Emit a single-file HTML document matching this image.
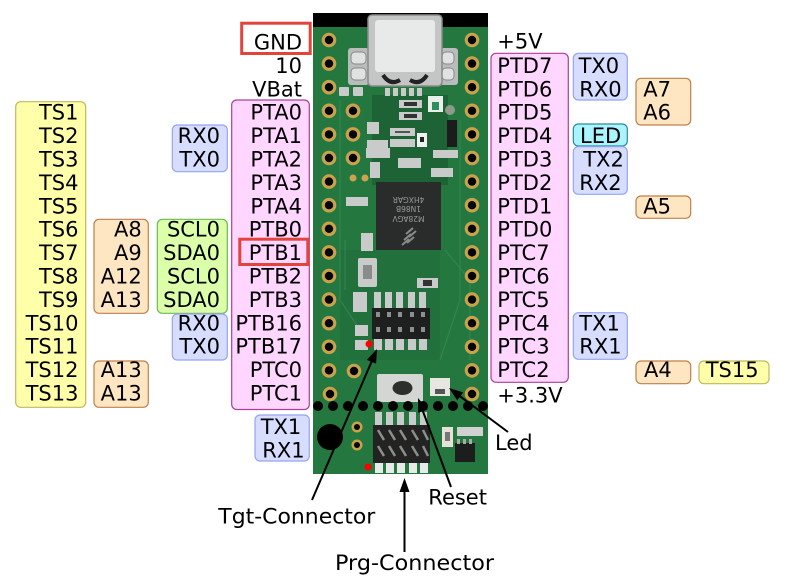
<!DOCTYPE html>
<html><head><meta charset="utf-8"><style>
html,body{margin:0;padding:0;background:#fff}
svg{display:block}
text{font-family:"DejaVu Sans","Liberation Sans",sans-serif;font-size:21px;fill:#000}
</style></head><body>
<svg width="786" height="576" viewBox="0 0 786 576" xmlns="http://www.w3.org/2000/svg">
<rect width="786" height="576" fill="#fff"/>

<!-- ============ BOARD ============ -->
<rect x="313" y="13" width="175" height="461" fill="#24783f"/>
<rect x="372" y="95" width="76" height="90" fill="#1b5a33" opacity="0.7"/>
<rect x="340" y="250" width="100" height="110" fill="#1f6a3a" opacity="0.5"/>
<rect x="313" y="13" width="175" height="14" fill="#000"/>
<!-- subtle traces -->
<g stroke="#3a8a56" stroke-width="1" fill="none" opacity="0.8">
<path d="M340 100 L340 300 L360 330"/><path d="M460 120 L460 300 L440 360"/>
<path d="M445 250 L470 280 L470 360"/><path d="M345 240 L345 290"/>
</g>

<!-- USB connector -->
<rect x="348" y="48" width="21" height="37" rx="3" fill="#b8bcbc"/>
<rect x="351" y="52" width="15" height="12" rx="4" fill="#e0e2e2" stroke="#888" stroke-width="1"/>
<rect x="351" y="68" width="15" height="12" rx="4" fill="#e0e2e2" stroke="#888" stroke-width="1"/>
<rect x="440" y="48" width="18" height="37" rx="3" fill="#b8bcbc"/>
<rect x="442" y="52" width="12" height="12" rx="4" fill="#e0e2e2" stroke="#888" stroke-width="1"/>
<rect x="442" y="68" width="12" height="12" rx="4" fill="#e0e2e2" stroke="#888" stroke-width="1"/>
<rect x="368" y="15" width="74" height="71" rx="4" fill="#c4c6c6" stroke="#8a8c8c" stroke-width="1.5"/>
<rect x="375" y="20" width="60" height="52" rx="3" fill="#e8e9e9"/>
<path d="M383 75 Q390 86 400 80 M410 80 Q420 86 427 75" stroke="#222" stroke-width="4" fill="none"/>

<!-- small components upper -->
<g fill="#c9cbcb">
<rect x="339" y="87" width="10" height="9" rx="1"/><rect x="353" y="87" width="10" height="9" rx="1"/>
<rect x="385" y="88" width="5" height="8"/><rect x="393" y="88" width="5" height="8"/><rect x="401" y="88" width="5" height="8"/><rect x="409" y="88" width="5" height="8"/><rect x="417" y="88" width="5" height="8"/>
<rect x="399" y="100" width="23" height="8"/><rect x="399" y="112" width="23" height="8"/>
<rect x="367" y="122" width="12" height="12"/><rect x="367" y="140" width="21" height="9"/>
<rect x="390" y="128" width="25" height="8"/><rect x="390" y="139" width="25" height="8"/>
<rect x="433" y="150" width="25" height="8"/><rect x="431" y="168" width="22" height="9"/>
<rect x="398" y="158" width="23" height="10"/><rect x="366" y="148" width="24" height="10"/>
<rect x="370" y="162" width="10" height="16"/>
<rect x="346" y="197" width="22" height="9"/>
<rect x="361" y="233" width="12" height="18"/>
<rect x="358" y="258" width="19" height="29" rx="2"/>
<rect x="417" y="278" width="21" height="10"/>
<rect x="353" y="292" width="14" height="20"/>
<rect x="355" y="325" width="13" height="11"/><rect x="355" y="340" width="13" height="10"/>
</g>
<rect x="404" y="102" width="13" height="4" fill="#333"/><rect x="404" y="114" width="13" height="4" fill="#333"/>
<rect x="428" y="96" width="15" height="16" fill="#e8eee8"/><rect x="432" y="102" width="7" height="8" fill="#2e8f5a"/>
<circle cx="450" cy="110" r="5" fill="#8f9a8a"/>
<rect x="447" y="120" width="10" height="27" fill="#1c1c1c"/>
<rect x="417" y="133" width="10" height="14" fill="#f0f0f0"/><rect x="420" y="137" width="4" height="5" fill="#222"/>
<rect x="395" y="131" width="15" height="2" fill="#555"/>
<rect x="363" y="265" width="9" height="14" fill="#8a8c8c"/>
<rect x="423" y="280" width="9" height="6" fill="#333"/>
<circle cx="353" cy="178" r="3.5" fill="#c9a44c"/><circle cx="365" cy="178" r="3.5" fill="#c9a44c"/>

<!-- MCU chip -->
<rect x="376" y="182" width="65" height="68" fill="#2a2b2b"/>
<g transform="rotate(180 408.5 216)">
<text x="408.5" y="216" style="font-size:7.5px;fill:#9a9a9a;text-anchor:middle">M28AGV</text>
<text x="408.5" y="226" style="font-size:7.5px;fill:#9a9a9a;text-anchor:middle">1N86B</text>
<text x="408.5" y="235" style="font-size:7.5px;fill:#9a9a9a;text-anchor:middle">4HXGAR</text>
</g>
<g stroke="#8a8a8a" stroke-width="2">
<path d="M406 234 L413 228 M409 237 L416 231 M404 240 L411 234 M407 243 L414 237 M402 245 L409 239"/>
</g>

<!-- Tgt header -->
<g fill="#c9cbcb">
<rect x="374" y="292" width="7" height="16"/><rect x="385" y="292" width="7" height="16"/><rect x="396" y="292" width="7" height="16"/><rect x="408" y="292" width="7" height="16"/><rect x="419" y="292" width="7" height="16"/>
<rect x="374" y="338" width="8" height="12"/><rect x="385" y="338" width="8" height="12"/><rect x="396" y="338" width="8" height="12"/><rect x="408" y="338" width="8" height="12"/><rect x="419" y="338" width="8" height="12"/>
</g>
<rect x="372" y="308" width="58" height="31" fill="#1e1f1f"/>
<g fill="#8d8f8a">
<rect x="376" y="312" width="4" height="5"/><rect x="387" y="312" width="4" height="5"/><rect x="398" y="312" width="4" height="5"/><rect x="410" y="312" width="4" height="5"/><rect x="421" y="312" width="4" height="5"/>
<rect x="376" y="327" width="4" height="5"/><rect x="387" y="327" width="4" height="5"/><rect x="398" y="327" width="4" height="5"/><rect x="410" y="327" width="4" height="5"/><rect x="421" y="327" width="4" height="5"/>
</g>
<circle cx="369" cy="344" r="3.5" fill="#f00"/>

<!-- Reset button & LED -->
<rect x="377" y="374" width="46" height="28" rx="2" fill="#d4d6d4"/>
<ellipse cx="402.5" cy="388" rx="10" ry="7" fill="#2d2f2f"/>
<rect x="430" y="378" width="20" height="18" fill="#e8e6e0"/>
<rect x="435" y="389" width="10" height="5" fill="#555"/>

<!-- Prg header -->
<g fill="#c9cbcb">
<rect x="375" y="412" width="7" height="14"/><rect x="386" y="412" width="7" height="14"/><rect x="397" y="412" width="7" height="14"/><rect x="409" y="412" width="7" height="14"/><rect x="420" y="412" width="7" height="14"/>
</g>
<g fill="#e8eaea">
<rect x="375" y="462" width="8" height="11"/><rect x="386" y="462" width="8" height="11"/><rect x="397" y="462" width="8" height="11"/><rect x="409" y="462" width="8" height="11"/><rect x="420" y="462" width="8" height="11"/>
</g>
<rect x="373" y="425" width="57" height="38" fill="#222322"/>
<g stroke="#8d8f8a" stroke-width="2.5">
<path d="M378 430 L384 440 M389 430 L395 440 M400 430 L406 440 M412 430 L418 440 M423 430 L428 440"/>
<path d="M378 446 L384 456 M389 446 L395 456 M400 446 L406 456 M412 446 L418 456 M423 446 L428 456"/>
</g>
<circle cx="368" cy="467" r="3.5" fill="#f00"/>

<!-- right lower components -->
<rect x="442" y="427" width="11" height="20" fill="#e6e2d8"/><rect x="445" y="432" width="5" height="9" fill="#777"/>
<rect x="457" y="427" width="26" height="9" fill="#d0d2d2"/>
<rect x="455" y="443" width="20" height="19" fill="#1c1d1d"/>
<g fill="#aaa"><rect x="457" y="439" width="3" height="5"/><rect x="463" y="439" width="3" height="5"/><rect x="469" y="439" width="3" height="5"/></g>

<!-- holes -->
<g fill="#c9a24a">
<circle cx="329" cy="40" r="7.3"/><circle cx="329" cy="63.6" r="7.3"/><circle cx="329" cy="87.2" r="7.3"/><circle cx="329" cy="110.8" r="7.3"/><circle cx="329" cy="134.4" r="7.3"/><circle cx="329" cy="158" r="7.3"/><circle cx="329" cy="181.6" r="7.3"/><circle cx="329" cy="205.2" r="7.3"/><circle cx="329" cy="228.8" r="7.3"/><circle cx="329" cy="252.4" r="7.3"/><circle cx="329" cy="276" r="7.3"/><circle cx="329" cy="299.6" r="7.3"/><circle cx="329" cy="323.2" r="7.3"/><circle cx="329" cy="346.8" r="7.3"/><circle cx="329" cy="370.4" r="7.3"/><circle cx="330" cy="394" r="7.3"/>
<circle cx="472" cy="40" r="7.3"/><circle cx="472" cy="63.6" r="7.3"/><circle cx="472" cy="87.2" r="7.3"/><circle cx="472" cy="110.8" r="7.3"/><circle cx="472" cy="134.4" r="7.3"/><circle cx="472" cy="158" r="7.3"/><circle cx="472" cy="181.6" r="7.3"/><circle cx="472" cy="205.2" r="7.3"/><circle cx="472" cy="228.8" r="7.3"/><circle cx="472" cy="252.4" r="7.3"/><circle cx="472" cy="276" r="7.3"/><circle cx="472" cy="299.6" r="7.3"/><circle cx="472" cy="323.2" r="7.3"/><circle cx="472" cy="346.8" r="7.3"/><circle cx="472" cy="370.4" r="7.3"/><circle cx="472" cy="394" r="7.3"/>
<circle cx="353" cy="110.8" r="7.3"/><circle cx="353" cy="134.4" r="7.3"/><circle cx="353" cy="158" r="7.3"/><circle cx="354" cy="371" r="7.3"/>
<circle cx="357" cy="427" r="5.5"/><circle cx="357" cy="445" r="5.5"/>
</g>
<g fill="#050505">
<circle cx="329" cy="40" r="4.2"/><circle cx="329" cy="63.6" r="4.2"/><circle cx="329" cy="87.2" r="4.2"/><circle cx="329" cy="110.8" r="4.2"/><circle cx="329" cy="134.4" r="4.2"/><circle cx="329" cy="158" r="4.2"/><circle cx="329" cy="181.6" r="4.2"/><circle cx="329" cy="205.2" r="4.2"/><circle cx="329" cy="228.8" r="4.2"/><circle cx="329" cy="252.4" r="4.2"/><circle cx="329" cy="276" r="4.2"/><circle cx="329" cy="299.6" r="4.2"/><circle cx="329" cy="323.2" r="4.2"/><circle cx="329" cy="346.8" r="4.2"/><circle cx="329" cy="370.4" r="4.2"/><circle cx="330" cy="394" r="4.2"/>
<circle cx="472" cy="40" r="4.2"/><circle cx="472" cy="63.6" r="4.2"/><circle cx="472" cy="87.2" r="4.2"/><circle cx="472" cy="110.8" r="4.2"/><circle cx="472" cy="134.4" r="4.2"/><circle cx="472" cy="158" r="4.2"/><circle cx="472" cy="181.6" r="4.2"/><circle cx="472" cy="205.2" r="4.2"/><circle cx="472" cy="228.8" r="4.2"/><circle cx="472" cy="252.4" r="4.2"/><circle cx="472" cy="276" r="4.2"/><circle cx="472" cy="299.6" r="4.2"/><circle cx="472" cy="323.2" r="4.2"/><circle cx="472" cy="346.8" r="4.2"/><circle cx="472" cy="370.4" r="4.2"/><circle cx="472" cy="394" r="4.2"/>
<circle cx="353" cy="110.8" r="4.2"/><circle cx="353" cy="134.4" r="4.2"/><circle cx="353" cy="158" r="4.2"/><circle cx="354" cy="371" r="4.2"/>
<circle cx="357" cy="427" r="3"/><circle cx="357" cy="445" r="3"/>
</g>

<!-- dotted separator row -->
<g fill="#000">
<circle cx="318" cy="406" r="5"/><circle cx="333" cy="406" r="5"/><circle cx="348" cy="406" r="5"/><circle cx="363" cy="406" r="5"/><circle cx="378" cy="406" r="5"/><circle cx="393" cy="406" r="5"/><circle cx="408" cy="406" r="5"/><circle cx="423" cy="406" r="5"/><circle cx="438" cy="406" r="5"/><circle cx="453" cy="406" r="5"/><circle cx="468" cy="406" r="5"/><circle cx="483" cy="406" r="5"/>
</g>
<circle cx="330" cy="437" r="13" fill="#000"/>

<!-- ============ LABEL BOXES ============ -->
<rect x="15.7" y="101.7" width="70" height="305.6" rx="5" fill="#ffffaa" stroke="#c0b860" stroke-width="1.2"/>
<rect x="94" y="219.3" width="54.3" height="94" rx="5" fill="#ffe6c2" stroke="#c0804a" stroke-width="1.2"/>
<rect x="94" y="361" width="54.3" height="46.3" rx="5" fill="#ffe6c2" stroke="#c0804a" stroke-width="1.2"/>
<rect x="157.3" y="219.3" width="70" height="94" rx="5" fill="#dcffaa" stroke="#70b850" stroke-width="1.2"/>
<rect x="172.3" y="125" width="55" height="46.7" rx="5" fill="#d6ddff" stroke="#95a5f0" stroke-width="1.2"/>
<rect x="172.3" y="314" width="55" height="46" rx="5" fill="#d6ddff" stroke="#95a5f0" stroke-width="1.2"/>
<rect x="231.7" y="100" width="77.6" height="309.5" rx="5" fill="#ffd6ff" stroke="#a8409a" stroke-width="1.2"/>
<rect x="255" y="415" width="54.3" height="46" rx="5" fill="#d6ddff" stroke="#95a5f0" stroke-width="1.2"/>
<rect x="491" y="53.3" width="77.3" height="329" rx="5" fill="#ffd6ff" stroke="#a8409a" stroke-width="1.2"/>
<rect x="573.3" y="53.3" width="54" height="46.7" rx="5" fill="#d6ddff" stroke="#95a5f0" stroke-width="1.2"/>
<rect x="573.3" y="124" width="54" height="22" rx="5" fill="#aaf4ff" stroke="#2a8aa0" stroke-width="1.2"/>
<rect x="573.3" y="146.7" width="54" height="47.6" rx="5" fill="#d6ddff" stroke="#95a5f0" stroke-width="1.2"/>
<rect x="573.3" y="312.7" width="54" height="46.6" rx="5" fill="#d6ddff" stroke="#95a5f0" stroke-width="1.2"/>
<rect x="636" y="78.3" width="54.7" height="46.7" rx="5" fill="#ffe6c2" stroke="#c0804a" stroke-width="1.2"/>
<rect x="636" y="196" width="54.7" height="22.3" rx="5" fill="#ffe6c2" stroke="#c0804a" stroke-width="1.2"/>
<rect x="636" y="361" width="54.7" height="22.7" rx="5" fill="#ffe6c2" stroke="#c0804a" stroke-width="1.2"/>
<rect x="699" y="361" width="70" height="22.7" rx="5" fill="#ffffaa" stroke="#c0b860" stroke-width="1.2"/>

<!-- red highlight boxes -->
<rect x="241.7" y="23.2" width="68.5" height="30.3" fill="none" stroke="#e2443c" stroke-width="3"/>
<rect x="239.8" y="239.2" width="68" height="25.3" fill="none" stroke="#e2443c" stroke-width="3"/>

<!-- ============ TEXT ============ -->
<g text-anchor="end">
<text x="302" y="49.5">GND</text>
<text x="302" y="72.9">10</text>
<text x="302" y="96.3">VBat</text>
<text x="302" y="119.7">PTA0</text>
<text x="302" y="143.1">PTA1</text>
<text x="302" y="166.5">PTA2</text>
<text x="302" y="189.9">PTA3</text>
<text x="302" y="213.3">PTA4</text>
<text x="302" y="236.7">PTB0</text>
<text x="302" y="260.1">PTB1</text>
<text x="302" y="283.5">PTB2</text>
<text x="302" y="306.9">PTB3</text>
<text x="302" y="330.3">PTB16</text>
<text x="302" y="353.7">PTB17</text>
<text x="302" y="377.1">PTC0</text>
<text x="302" y="400.5">PTC1</text>

<text x="78.5" y="119.7">TS1</text>
<text x="78.5" y="143.1">TS2</text>
<text x="78.5" y="166.5">TS3</text>
<text x="78.5" y="189.9">TS4</text>
<text x="78.5" y="213.3">TS5</text>
<text x="78.5" y="236.7">TS6</text>
<text x="78.5" y="260.1">TS7</text>
<text x="78.5" y="283.5">TS8</text>
<text x="78.5" y="306.9">TS9</text>
<text x="78.5" y="330.3">TS10</text>
<text x="78.5" y="353.7">TS11</text>
<text x="78.5" y="377.1">TS12</text>
<text x="78.5" y="400.5">TS13</text>

<text x="141.7" y="236.7">A8</text>
<text x="141.7" y="260.1">A9</text>
<text x="141.7" y="283.5">A12</text>
<text x="141.7" y="306.9">A13</text>
<text x="141.7" y="377.1">A13</text>
<text x="141.7" y="400.5">A13</text>

<text x="220" y="236.7">SCL0</text>
<text x="220" y="260.1">SDA0</text>
<text x="220" y="283.5">SCL0</text>
<text x="220" y="306.9">SDA0</text>

<text x="220" y="143.1">RX0</text>
<text x="220" y="166.5">TX0</text>
<text x="220" y="330.3">RX0</text>
<text x="220" y="353.7">TX0</text>
</g>
<text x="260.7" y="434">TX1</text>
<text x="262.3" y="457.4">RX1</text>

<text x="497.3" y="48.5">+5V</text>
<text x="497.3" y="72.9">PTD7</text>
<text x="497.3" y="96.3">PTD6</text>
<text x="497.3" y="119.7">PTD5</text>
<text x="497.3" y="143.1">PTD4</text>
<text x="497.3" y="166.5">PTD3</text>
<text x="497.3" y="189.9">PTD2</text>
<text x="497.3" y="213.3">PTD1</text>
<text x="497.3" y="236.7">PTD0</text>
<text x="497.3" y="260.1">PTC7</text>
<text x="497.3" y="283.5">PTC6</text>
<text x="497.3" y="306.9">PTC5</text>
<text x="497.3" y="330.3">PTC4</text>
<text x="497.3" y="353.7">PTC3</text>
<text x="497.3" y="377.1">PTC2</text>
<text x="497.3" y="402.5">+3.3V</text>

<text x="578.6" y="72.9">TX0</text>
<text x="579.3" y="96.3">RX0</text>
<text x="580" y="143.1">LED</text>
<text x="583.3" y="166.5">TX2</text>
<text x="579.3" y="189.9">RX2</text>
<text x="579.3" y="330.3">TX1</text>
<text x="579.3" y="353.7">RX1</text>

<text x="643.3" y="96.3">A7</text>
<text x="643.3" y="119.7">A6</text>
<text x="643.3" y="213.3">A5</text>
<text x="644" y="377.1">A4</text>
<text x="705.7" y="377.1">TS15</text>

<text x="495" y="450">Led</text>
<text x="428.3" y="504.3">Reset</text>
<text x="218.3" y="523.3" textLength="157" lengthAdjust="spacingAndGlyphs">Tgt-Connector</text>
<text x="335" y="570" textLength="159" lengthAdjust="spacingAndGlyphs">Prg-Connector</text>

<!-- ============ ARROWS ============ -->
<g stroke="#000" stroke-width="2" fill="none">
<line x1="312" y1="500" x2="371.5" y2="361.8"/>
<line x1="451" y1="487" x2="422.9" y2="411.1"/>
<line x1="508" y1="432" x2="460.2" y2="396.4"/>
<line x1="404.5" y1="552" x2="404.5" y2="492"/>
</g>
<g fill="#000">
<polygon points="377,349 376.1,363.8 366.9,359.9"/>
<polygon points="418,398 427.6,409.4 418.2,412.9"/>
<polygon points="449,388 463.2,392.4 457.2,400.4"/>
<polygon points="404.5,478 409.5,492 399.5,492"/>
</g>
</svg>
</body></html>
